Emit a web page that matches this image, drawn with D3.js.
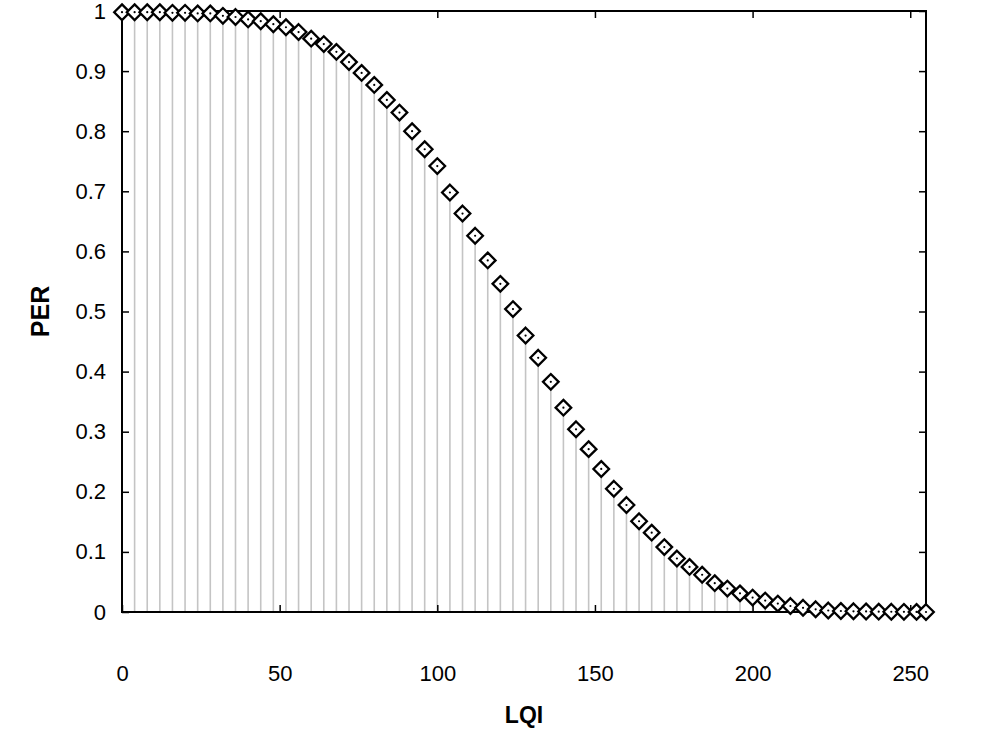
<!DOCTYPE html>
<html>
<head>
<meta charset="utf-8">
<script src="https://cdn.jsdelivr.net/npm/d3@7"></script>
<style>
  html, body { margin: 0; padding: 0; background: #fff; }
  svg { display: block; }
  text { font-family: "Liberation Sans", Arial, sans-serif; fill: #000; }
</style>
</head>
<body>
<svg id="chart" width="984" height="736"></svg>
<script>
// ---- data ----
const lqi = [0, 4, 8, 12, 16, 20, 24, 28, 32, 36, 40, 44, 48, 52, 56, 60,
  64, 68, 72, 76, 80, 84, 88, 92, 96, 100, 104, 108, 112, 116, 120, 124,
  128, 132, 136, 140, 144, 148, 152, 156, 160, 164, 168, 172, 176, 180, 184, 188,
  192, 196, 200, 204, 208, 212, 216, 220, 224, 228, 232, 236, 240, 244, 248, 252, 255];
const per = [0.998, 0.998, 0.998, 0.998, 0.997, 0.997, 0.996, 0.996, 0.992, 0.990, 0.986, 0.983, 0.978, 0.973, 0.965, 0.954,
  0.945, 0.932, 0.915, 0.897, 0.877, 0.852, 0.831, 0.800, 0.770, 0.742, 0.698, 0.663, 0.626, 0.585, 0.546, 0.504,
  0.460, 0.423, 0.383, 0.340, 0.304, 0.271, 0.238, 0.205, 0.178, 0.151, 0.132, 0.108, 0.089, 0.075, 0.062, 0.048,
  0.039, 0.031, 0.024, 0.019, 0.014, 0.010, 0.007, 0.0045, 0.0025, 0.0017, 0.0012, 0.0009, 0.0006, 0.0004, 0.0003, 0.0002, 0.0];
const xTicks = [0, 50, 100, 150, 200, 250];
const yTicks = [0, 0.1, 0.2, 0.3, 0.4, 0.5, 0.6, 0.7, 0.8, 0.9, 1];
const xLabel = "LQI";
const yLabel = "PER";

// ---- layout ----
const mLeft = 122, mRight = 926, mTop = 11, mBottom = 612;
const svg = d3.select("#chart");
const x = d3.scaleLinear().domain([0, 255]).range([mLeft, mRight]);
const y = d3.scaleLinear().domain([0, 1]).range([mBottom, mTop]);
const data = lqi.map((v, i) => ({ x: v, y: per[i] }));

// impulses
svg.append("g").selectAll("line").data(data).join("line")
  .attr("x1", d => x(d.x)).attr("x2", d => x(d.x))
  .attr("y1", y(0)).attr("y2", d => y(d.y))
  .attr("stroke", "#c4c4c4").attr("stroke-width", 1.6);

// axes (ticks inward)
const tickLen = 7;
const gx = svg.append("g").attr("transform", `translate(0,${mBottom})`)
  .call(d3.axisBottom(x).tickValues(xTicks).tickSize(-tickLen).tickFormat(d3.format("d")));
const gxt = svg.append("g").attr("transform", `translate(0,${mTop})`)
  .call(d3.axisTop(x).tickValues(xTicks).tickSize(-tickLen).tickFormat(""));
const gy = svg.append("g").attr("transform", `translate(${mLeft},0)`)
  .call(d3.axisLeft(y).tickValues(yTicks).tickSize(-tickLen).tickPadding(16)
    .tickFormat(d => d === 0 ? "0" : d === 1 ? "1" : d3.format(".1f")(d)));
const gyr = svg.append("g").attr("transform", `translate(${mRight},0)`)
  .call(d3.axisRight(y).tickValues(yTicks).tickSize(-tickLen).tickFormat(""));

[gx, gxt, gy, gyr].forEach(g => {
  g.select(".domain").remove();
  g.selectAll(".tick line").attr("stroke", "#000").attr("stroke-width", 1.5);
  g.selectAll(".tick text").attr("font-size", 22)
    .attr("font-family", "'Liberation Sans', Arial, sans-serif").attr("fill", "#222");
});
gx.selectAll(".tick text").attr("dy", "0.35em").attr("y", 61);
gy.selectAll(".tick text").attr("x", -16);

// frame
svg.append("rect").attr("x", mLeft).attr("y", mTop)
  .attr("width", mRight - mLeft).attr("height", mBottom - mTop)
  .attr("fill", "none").attr("stroke", "#000").attr("stroke-width", 2);

// markers
const s = 7.8;
const mk = svg.append("g").selectAll("g").data(data).join("g")
  .attr("transform", d => `translate(${x(d.x)},${y(d.y)})`);
mk.append("path").attr("d", `M0,${-s}L${s},0L0,${s}L${-s},0Z`)
  .attr("fill", "#fff").attr("stroke", "#000").attr("stroke-width", 2.3);
mk.append("circle").attr("r", 1.1).attr("fill", "#000");

// labels
svg.append("text").attr("x", (mLeft + mRight) / 2).attr("y", 723)
  .attr("text-anchor", "middle").attr("font-size", 23).attr("font-weight", "bold").text(xLabel);
svg.append("text").attr("transform", `translate(49,${(mTop + mBottom) / 2}) rotate(-90)`)
  .attr("text-anchor", "middle").attr("font-size", 25).attr("font-weight", "bold").text(yLabel);
</script>
</body>
</html>
